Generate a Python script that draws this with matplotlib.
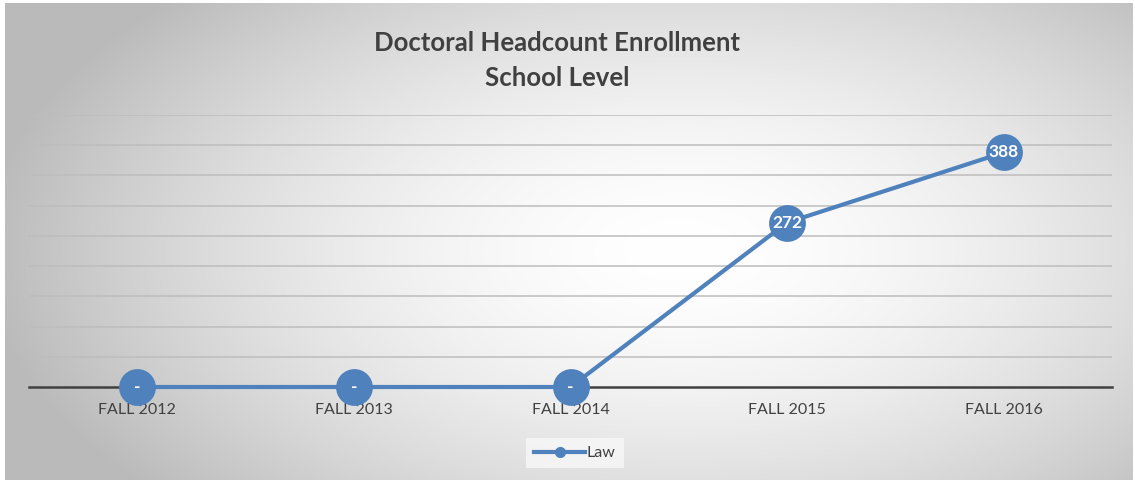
import numpy as np
import matplotlib
matplotlib.use("Agg")
import matplotlib.pyplot as plt

categories = ["FALL 2012", "FALL 2013", "FALL 2014", "FALL 2015", "FALL 2016"]
law = [0, 0, 0, 272, 388]
series_name = "Law"

blue = "#4F81BD"
dark = "#404040"

plt.rcParams['font.family'] = ['Lato', 'DejaVu Sans']

W, H = 1135, 482
fig = plt.figure(figsize=(W / 100, H / 100), dpi=100)

# background: white page with a radial-gradient chart area
bg = fig.add_axes([0, 0, 1, 1])
bg.set_xlim(0, W)
bg.set_ylim(H, 0)
bg.axis("off")
yy, xx = np.mgrid[0:H, 0:W]
d = np.sqrt(((xx - 680) / 640.0) ** 2 + ((yy - 250) / 340.0) ** 2)
shade = 1.0 - 0.23 * np.clip(d, 0, 1.1) ** 1.7
img = np.dstack([shade, shade, shade])
bg.imshow(img, extent=[5, W - 2, H - 2, 3], aspect="auto", zorder=0)

ax = fig.add_axes([29 / W, 95 / H, 1083 / W, 272 / H])
ax.set_facecolor("none")
x = np.arange(len(categories)) + 0.5
ax.set_xlim(0, len(categories))
ax.set_ylim(0, 450)
ax.set_yticks(np.arange(50, 451, 50))
ax.yaxis.grid(True, color="#bdbdbd", linewidth=1.1)
ax.set_axisbelow(True)
ax.tick_params(axis="y", left=False, labelleft=False)
ax.tick_params(axis="x", bottom=False, pad=8, labelsize=11.5, labelcolor="#404040")
ax.set_xticks(x)
ax.set_xticklabels(categories)
for s in ["top", "right", "left"]:
    ax.spines[s].set_visible(False)
ax.spines["bottom"].set_color(dark)
ax.spines["bottom"].set_linewidth(1.8)
ax.spines["bottom"].set_zorder(1)

ax.plot(x, law, color=blue, linewidth=3, marker="o", markersize=26.5,
        markeredgewidth=0, zorder=3, clip_on=False, label=series_name)
for xi, v in zip(x, law):
    ax.text(xi, v, "-" if v == 0 else str(v), ha="center", va="center",
            color="white", fontsize=12.5, fontweight="bold", zorder=4)

fig.text(557 / W, 1 - 43 / H, "Doctoral Headcount Enrollment", ha="center", va="center",
         fontsize=18.5, fontweight="bold", color=dark)
fig.text(557 / W, 1 - 78 / H, "School Level", ha="center", va="center",
         fontsize=18.5, fontweight="bold", color=dark)

h, = ax.plot([], [], color=blue, linewidth=3, marker="o", markersize=7)
leg = fig.legend([h], [series_name], loc="center", bbox_to_anchor=(575 / W, 1 - 453 / H),
                 frameon=True, fontsize=11.5, handlelength=3.2, handletextpad=0.1,
                 borderpad=0.5, fancybox=False)
leg.get_frame().set_facecolor("#f8f8f8")
leg.get_frame().set_edgecolor("none")
for t in leg.get_texts():
    t.set_color(dark)

fig.savefig("out.png", dpi=100)
